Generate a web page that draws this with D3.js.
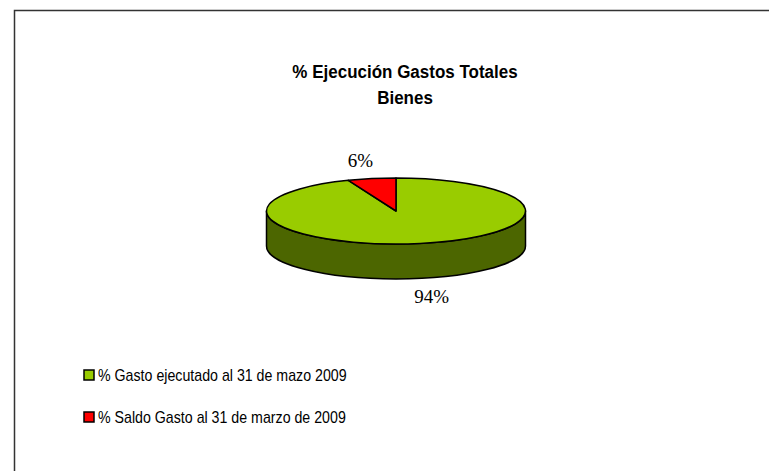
<!DOCTYPE html>
<html>
<head>
<meta charset="utf-8">
<script src="https://cdn.jsdelivr.net/npm/d3@7"></script>
<style>
  body { margin: 0; background: #fff; }
  svg { display: block; }
</style>
</head>
<body>
<div id="chart"></div>
<script>
var
  width = 769,
  height = 471;

// datos
var titleLines = ["% Ejecución Gastos Totales", "Bienes"];
var categories = ["% Gasto ejecutado al 31 de mazo 2009", "% Saldo Gasto al 31 de marzo de 2009"];
var values = [94, 6];
var topColors = ["#99CC00", "#FF0000"];
var sideColors = ["#4C6600", "#800000"];

var svg = d3.select("#chart")
  .append("svg")
  .attr("width", width)
  .attr("height", height);

// marco
svg.append("path")
  .attr("d", "M14.5," + height + "V10.5H" + width)
  .attr("fill", "none")
  .attr("stroke", "#333")
  .attr("stroke-width", 1.5);

// titulo (texto un poco alargado en vertical, como en el original)
svg.append("g").selectAll("text")
  .data(titleLines)
  .enter().append("text")
  .attr("transform", function(d, i) { return "translate(405," + (78 + i * 26) + ") scale(1,1.12)"; })
  .attr("text-anchor", "middle")
  .attr("font-family", "Liberation Sans, Arial, sans-serif")
  .attr("font-weight", "bold")
  .attr("font-size", 17)
  .text(function(d) { return d; });

// pastel 3d
var cx = 396, cy = 211, rx = 129.5, ry = 33, depth = 35;

var pie = d3.pie().sort(null).value(function(d) { return d; });
var arcs = pie(values);

function px(a) { return cx + rx * Math.sin(a); }
function py(a, dy) { return cy - ry * Math.cos(a) + (dy || 0); }

function topPath(d) {
  var large = (d.endAngle - d.startAngle) > Math.PI ? 1 : 0;
  return "M" + cx + "," + cy +
    "L" + px(d.startAngle) + "," + py(d.startAngle) +
    "A" + rx + "," + ry + " 0 " + large + " 1 " + px(d.endAngle) + "," + py(d.endAngle) + "Z";
}

function sidePath(d) {
  var a0 = Math.max(d.startAngle, Math.PI / 2),
      a1 = Math.min(d.endAngle, 3 * Math.PI / 2);
  if (a1 <= a0) return null;
  var large = (a1 - a0) > Math.PI ? 1 : 0;
  return "M" + px(a0) + "," + py(a0) +
    "A" + rx + "," + ry + " 0 " + large + " 1 " + px(a1) + "," + py(a1) +
    "L" + px(a1) + "," + py(a1, depth) +
    "A" + rx + "," + ry + " 0 " + large + " 0 " + px(a0) + "," + py(a0, depth) + "Z";
}

var pieG = svg.append("g");

pieG.selectAll(".side")
  .data(arcs.filter(function(d) { return sidePath(d); }))
  .enter().append("path")
  .attr("class", "side")
  .attr("d", sidePath)
  .attr("fill", function(d) { return sideColors[d.index]; })
  .attr("stroke", "#000")
  .attr("stroke-width", 1.5)
  .attr("stroke-linejoin", "round");

pieG.selectAll(".top")
  .data(arcs)
  .enter().append("path")
  .attr("class", "top")
  .attr("d", topPath)
  .attr("fill", function(d) { return topColors[d.index]; })
  .attr("stroke", "#000")
  .attr("stroke-width", 1.5)
  .attr("stroke-linejoin", "round");

// etiquetas
pieG.selectAll(".label")
  .data(arcs)
  .enter().append("text")
  .attr("class", "label")
  .attr("x", function(d) {
    var m = (d.startAngle + d.endAngle) / 2;
    return cx + Math.sin(m) * rx * 1.47;
  })
  .attr("y", function(d) {
    var m = (d.startAngle + d.endAngle) / 2;
    return Math.cos(m) < 0 ? cy + ry + depth + 24 : cy - ry - 11;
  })
  .attr("text-anchor", "middle")
  .attr("font-family", "Liberation Serif, Times New Roman, serif")
  .attr("font-size", 19)
  .text(function(d) { return d.value + "%"; });

// leyenda
var legend = svg.append("g").selectAll("g")
  .data(categories)
  .enter().append("g")
  .attr("transform", function(d, i) { return "translate(84," + (370 + i * 42) + ")"; });

legend.append("rect")
  .attr("width", 10)
  .attr("height", 10)
  .attr("fill", function(d, i) { return topColors[i]; })
  .attr("stroke", "#000")
  .attr("stroke-width", 1.5);

legend.append("text")
  .attr("transform", "translate(14,11) scale(1,1.15)")
  .attr("font-family", "Liberation Sans, Arial, sans-serif")
  .attr("font-size", 14.2)
  .text(function(d) { return d; });
</script>
</body>
</html>
